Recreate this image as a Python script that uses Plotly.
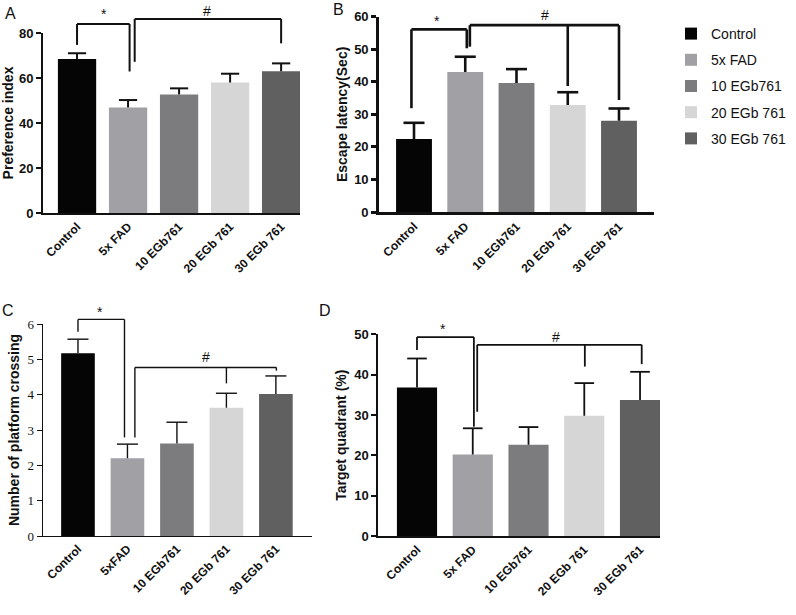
import plotly.graph_objects as go

categories = ["Control", "5x FAD", "10 EGb761", "20 EGb 761", "30 EGb 761"]
categories_c = ["Control", "5xFAD", "10 EGb761", "20 EGb 761", "30 EGb 761"]
colors = ["#050505", "#a0a0a5", "#7c7c7e", "#d6d6d6", "#606060"]

pref_mean = [68.4, 46.9, 52.7, 58.0, 63.0]
pref_err = [2.6, 3.3, 2.7, 3.9, 3.5]

escape_mean = [22.4, 43.0, 39.6, 32.9, 28.0]
escape_err = [5.0, 4.7, 4.3, 3.9, 3.8]

cross_mean = [5.17, 2.20, 2.62, 3.63, 4.02]
cross_err = [0.40, 0.40, 0.60, 0.41, 0.51]

quad_mean = [36.8, 20.2, 22.6, 29.8, 33.7]
quad_err = [7.2, 6.5, 4.4, 8.1, 7.0]

W, H = 796, 615
SANS = "Arial, Liberation Sans, sans-serif"
SERIF = "Times New Roman, Liberation Serif, serif"

panels = [
    dict(name="A", cats=categories, mean=pref_mean, err=pref_err, xpx=(43, 300), ypx=(213, 33),
         xr=(-0.667, 4.37), ymax=80, dtick=20, bw=0.75, lw=2, cap=13, title="Preference index",
         tickfont=dict(family=SANS, size=13, color="#111", weight="bold"),
         brackets=[dict(top=84.0, legs=[(0, 74.7), (1.03, 62.9)], lbl="*", lx=0.53, ly=88.5),
                   dict(top=86.2, legs=[(1.13, 67.2), (4.0, 75.4)], lbl="#", lx=2.55, ly=90.0)],
         letter=(10, 14)),
    dict(name="B", cats=categories, mean=escape_mean, err=escape_err, xpx=(379, 654), ypx=(212, 16.7),
         xr=(-0.683, 4.683), ymax=60, dtick=10, bw=0.70, lw=2.6, cap=15, title="Escape latency(Sec)",
         tickfont=dict(family=SANS, size=13, color="#111", weight="bold"),
         brackets=[dict(top=56.1, legs=[(-0.05, 31.9), (1.03, 50.3)], lbl="*", lx=0.45, ly=58.8),
                   dict(top=57.4, legs=[(1.09, 50.8), (3.0, 38.7), (4.0, 34.4)], lbl="#", lx=2.56, ly=60.6)],
         letter=(338, 10)),
    dict(name="C", cats=categories_c, mean=cross_mean, err=cross_err, xpx=(42.7, 312), ypx=(536, 324),
         xr=(-0.713, 4.73), ymax=6, dtick=1, bw=0.68, lw=1.4, cap=15, title="Number of platform crossing",
         tickfont=dict(family=SERIF, size=13, color="#111"),
         brackets=[dict(top=6.13, legs=[(0, 5.78), (0.94, 2.79)], lbl="*", lx=0.44, ly=6.33),
                   dict(top=4.77, legs=[(1.15, 2.79), (3.0, 4.32), (4.01, 4.68)], lbl="#", lx=2.58, ly=5.07)],
         letter=(8, 310)),
    dict(name="D", cats=categories, mean=quad_mean, err=quad_err, xpx=(378.3, 660), ypx=(536, 334.3),
         xr=(-0.694, 4.358), ymax=50, dtick=10, bw=0.72, lw=1.8, cap=14, title="Target quadrant (%)",
         tickfont=dict(family=SANS, size=13, color="#111", weight="bold"),
         brackets=[dict(top=49.3, legs=[(0, 46.1), (1.02, 27.1)], lbl="*", lx=0.47, ly=51.3),
                   dict(top=47.4, legs=[(1.08, 30.8), (3.01, 42.0), (4.03, 42.6)], lbl="#", lx=2.5, ly=49.4)],
         letter=(325, 310)),
]

fig = go.Figure()
shapes = []
annotations = []

for i, p in enumerate(panels):
    n = "" if i == 0 else str(i + 1)
    xa, ya = "x" + n, "y" + n
    for j, c in enumerate(p["cats"]):
        fig.add_trace(go.Bar(
            x=[c], y=[p["mean"][j]], xaxis=xa, yaxis=ya,
            name=categories[j], legendgroup=categories[j], showlegend=(i == 0),
            marker=dict(color=colors[j], line=dict(width=0)), width=p["bw"],
            error_y=dict(type="data", symmetric=False, array=[p["err"][j]], arrayminus=[0],
                         color="#111", thickness=p["lw"], width=0),
        ))
    # error-bar caps (top only)
    fig.add_trace(go.Scatter(
        x=p["cats"], y=[m + e for m, e in zip(p["mean"], p["err"])], xaxis=xa, yaxis=ya,
        mode="markers", showlegend=False, hoverinfo="skip", cliponaxis=False,
        marker=dict(symbol="line-ew", size=p["cap"], line=dict(color="#111", width=p["lw"])),
    ))
    xdom = [p["xpx"][0] / W, p["xpx"][1] / W]
    ydom = [1 - p["ypx"][0] / H, 1 - p["ypx"][1] / H]
    axis_common = dict(showline=True, linecolor="#111", linewidth=p["lw"], showgrid=False,
                       zeroline=False, automargin=False)
    fig.layout["xaxis" + n] = dict(
        domain=xdom, anchor=ya, type="category", categoryorder="array", categoryarray=p["cats"],
        range=list(p["xr"]), ticks="", tickangle=-45,
        tickfont=dict(family=SANS, size=12, color="#111", weight="bold"), **axis_common)
    fig.layout["yaxis" + n] = dict(
        domain=ydom, anchor=xa, range=[0, p["ymax"]], dtick=p["dtick"], ticks="outside",
        ticklen=5, tickwidth=p["lw"], tickcolor="#111", tickfont=p["tickfont"],
        title=dict(text=p["title"], font=dict(family=SANS, size=14, color="#111", weight="bold"), standoff=4),
        **axis_common)

    def fx(v, p=p):
        return (v - p["xr"][0]) / (p["xr"][1] - p["xr"][0])

    def fy(v, p=p):
        return v / p["ymax"]

    for b in p["brackets"]:
        xs = [l[0] for l in b["legs"]]
        line = dict(color="#111", width=p["lw"])
        shapes.append(dict(type="line", xref=xa + " domain", yref=ya + " domain",
                           x0=fx(min(xs)), x1=fx(max(xs)), y0=fy(b["top"]), y1=fy(b["top"]), line=line))
        for lx, lyb in b["legs"]:
            shapes.append(dict(type="line", xref=xa + " domain", yref=ya + " domain",
                               x0=fx(lx), x1=fx(lx), y0=fy(b["top"]), y1=fy(lyb), line=line))
        annotations.append(dict(text=b["lbl"], xref=xa + " domain", yref=ya + " domain",
                                x=fx(b["lx"]), y=fy(b["ly"]), xanchor="center", yanchor="middle",
                                showarrow=False, font=dict(family=SANS, size=14, color="#111")))
    annotations.append(dict(text=p["name"], xref="paper", yref="paper",
                            x=p["letter"][0] / W, y=1 - p["letter"][1] / H,
                            xanchor="center", yanchor="middle", showarrow=False,
                            font=dict(family=SANS, size=16, color="#111")))

fig.update_layout(
    width=W, height=H, margin=dict(l=0, r=0, t=0, b=0),
    paper_bgcolor="white", plot_bgcolor="white", barmode="overlay",
    shapes=shapes, annotations=annotations,
    legend=dict(x=671 / W, y=1 - 18 / H, xanchor="left", yanchor="top",
                font=dict(family=SANS, size=14, color="#111"), tracegroupgap=5,
                bgcolor="rgba(0,0,0,0)"),
)

fig.write_html("out.html", config={"displayModeBar": False},
               post_script="document.body.style.margin='0';document.body.style.overflow='hidden';")
